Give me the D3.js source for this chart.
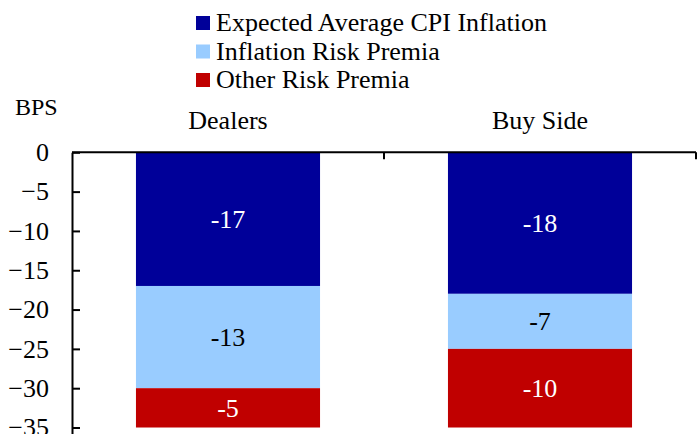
<!DOCTYPE html>
<html>
<head>
<meta charset="utf-8">
<script src="https://cdn.jsdelivr.net/npm/d3@7"></script>
<style>
  body { margin: 0; background: #fff; }
</style>
</head>
<body>
<div id="chart"></div>
<script>
const width = 698;
const height = 434;
const serif = "'Liberation Serif'";

// data
const categories = ["Dealers", "Buy Side"];
const seriesNames = ["Expected Average CPI Inflation", "Inflation Risk Premia", "Other Risk Premia"];
const expectedCPI = [-17, -18];
const inflationRP = [-13, -7];
const otherRP = [-5, -10];
const yTicks = [0, -5, -10, -15, -20, -25, -30, -35];

const colors = ["#000099", "#99ccff", "#c00000"];
const labelColors = ["#fff", "#000", "#fff"];

const svg = d3.select("#chart")
    .append("svg")
    .attr("width", width)
    .attr("height", height)
    .attr("font-family", "Liberation Serif")
    .style("font-family", serif);

const x = d3.scaleBand()
    .domain(categories)
    .range([72, 696])
    .paddingInner(0)
    .paddingOuter(0);

const y = d3.scaleLinear()
    .domain([-35.8, 0])
    .range([433.8, 152.3]);

const barFrac = 0.59;
const barW = x.bandwidth() * barFrac;

// build stacked segments
const seriesValues = [expectedCPI, inflationRP, otherRP];
const segments = [];
categories.forEach((c, ci) => {
    let top = 0;
    seriesValues.forEach((vals, si) => {
        const v = vals[ci];
        segments.push({ cat: c, s: si, y0: top, y1: top + v, v: v });
        top += v;
    });
});

svg.selectAll("rect.seg")
    .data(segments)
  .enter().append("rect")
    .attr("class", "seg")
    .attr("x", d => x(d.cat) + (x.bandwidth() - barW) / 2)
    .attr("y", d => y(d.y0))
    .attr("width", barW)
    .attr("height", d => y(d.y1) - y(d.y0))
    .attr("fill", d => colors[d.s]);

svg.selectAll("text.val")
    .data(segments)
  .enter().append("text")
    .attr("class", "val")
    .attr("x", d => x(d.cat) + x.bandwidth() / 2)
    .attr("y", d => (y(d.y0) + y(d.y1)) / 2)
    .attr("dy", "0.35em")
    .attr("text-anchor", "middle")
    .attr("font-family", "Liberation Serif")
    .style("font-family", serif)
    .attr("font-size", 26)
    .attr("fill", d => labelColors[d.s])
    .text(d => d.v);

// Y axis
const yAxis = svg.append("g")
    .attr("transform", "translate(72,0)")
    .call(d3.axisLeft(y).tickValues(yTicks).tickSize(-8).tickPadding(23).tickSizeOuter(0))
    .attr("font-family", "Liberation Serif")
    .attr("font-size", 26);
yAxis.select(".domain").attr("stroke", "#000").attr("stroke-width", 2);
yAxis.selectAll(".tick line").attr("stroke", "#000").attr("stroke-width", 2);
yAxis.selectAll(".tick text")
    .attr("font-family", "Liberation Serif")
    .style("font-family", serif)
    .attr("font-size", 26)
    .attr("fill", "#000");

// zero line with category separators
svg.append("line")
    .attr("x1", 72).attr("x2", 696)
    .attr("y1", y(0)).attr("y2", y(0))
    .attr("stroke", "#000").attr("stroke-width", 2);

svg.selectAll("line.sep")
    .data(categories)
  .enter().append("line")
    .attr("class", "sep")
    .attr("x1", d => x(d) + x.bandwidth())
    .attr("x2", d => x(d) + x.bandwidth())
    .attr("y1", y(0))
    .attr("y2", y(0) + 7)
    .attr("stroke", "#000").attr("stroke-width", 2);

// category labels above the zero line
svg.selectAll("text.cat")
    .data(categories)
  .enter().append("text")
    .attr("class", "cat")
    .attr("x", d => x(d) + x.bandwidth() / 2)
    .attr("y", 129)
    .attr("text-anchor", "middle")
    .attr("font-family", "Liberation Serif")
    .style("font-family", serif)
    .attr("font-size", 26)
    .attr("fill", "#000")
    .text(d => d);

// unit label
svg.append("text")
    .attr("x", 15)
    .attr("y", 115)
    .attr("font-family", "Liberation Serif")
    .style("font-family", serif)
    .attr("font-size", 24)
    .attr("fill", "#000")
    .text("BPS");

// legend
const legend = svg.selectAll("g.legend-item")
    .data(seriesNames)
  .enter().append("g")
    .attr("class", "legend-item")
    .attr("transform", (d, i) => `translate(196, ${16 + i * 28.5})`);

legend.append("rect")
    .attr("width", 14)
    .attr("height", 14)
    .attr("fill", (d, i) => colors[i]);

legend.append("text")
    .attr("x", 20)
    .attr("y", 15)
    .attr("font-family", "Liberation Serif")
    .style("font-family", serif)
    .attr("font-size", 26)
    .attr("fill", "#000")
    .text(d => d);
</script>
</body>
</html>
